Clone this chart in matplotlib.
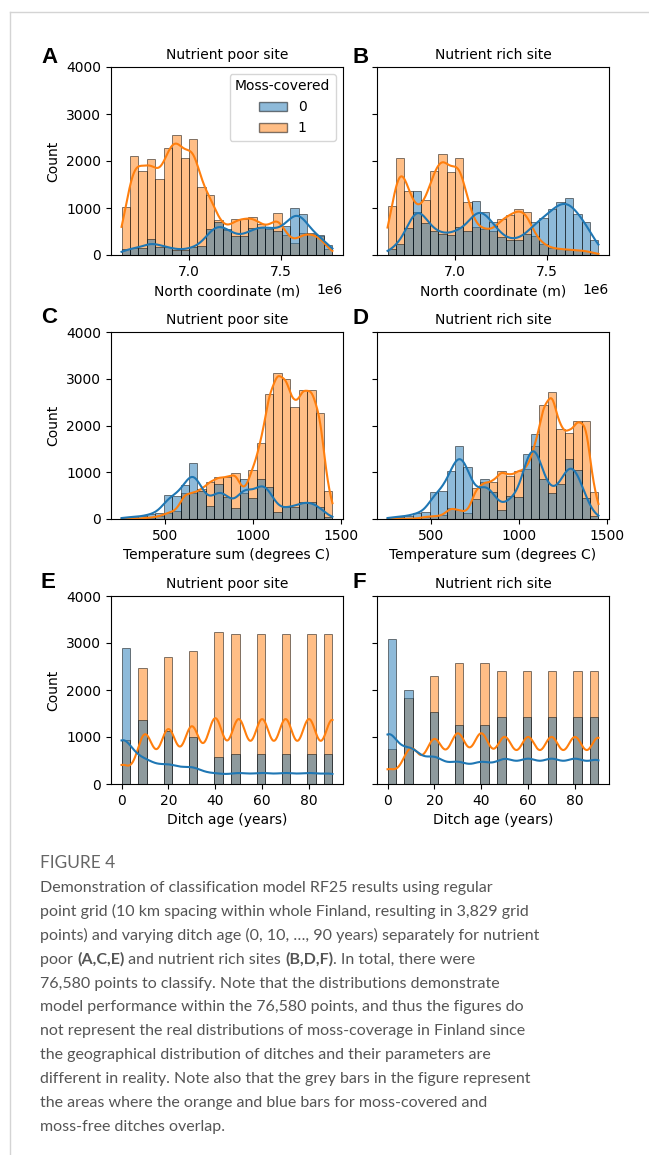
import numpy as np
import matplotlib
matplotlib.use("Agg")
import matplotlib.pyplot as plt
from matplotlib.lines import Line2D
from matplotlib.patches import Patch
from matplotlib.ticker import MultipleLocator

plt.rcParams['font.family'] = ['DejaVu Sans']
plt.rcParams['font.size'] = 10

# ---- data (25 bins per panel, class 0 = moss-free, 1 = moss-covered) ----
north_range = (6.635e6, 7.779e6)
north_poor_0 = [130, 150, 145, 330, 180, 180, 105, 105, 175, 190, 560, 700, 560,
                400, 400, 570, 600, 600, 510, 620, 1000, 870, 460, 420, 220]
north_poor_1 = [1030, 2110, 1790, 2040, 1610, 2270, 2560, 2070, 2460, 1440, 1280, 745, 540,
                760, 760, 815, 660, 560, 900, 420, 260, 470, 440, 400, 130]
north_rich_0 = [130, 230, 580, 1360, 680, 520, 450, 425, 590, 520, 1140, 910, 700,
                380, 320, 320, 440, 710, 780, 970, 1130, 1205, 870, 710, 320]
north_rich_1 = [1040, 2060, 1360, 920, 1160, 1780, 2140, 1760, 2070, 1130, 600, 560, 520,
                760, 850, 970, 910, 400, 230, 140, 130, 110, 100, 90, 40]

temp_range = (250, 1450)
temp_poor_0 = [40, 45, 55, 110, 130, 510, 500, 720, 1200, 600, 285, 748, 477,
               228, 862, 441, 854, 690, 157, 263, 263, 370, 370, 263, 50]
temp_poor_1 = [0, 5, 15, 30, 60, 130, 180, 548, 550, 640, 797, 890, 890,
               990, 548, 1047, 1616, 2684, 3125, 3004, 2399, 2770, 2770, 2271, 598]
temp_rich_0 = [40, 50, 65, 130, 142, 583, 605, 1025, 1566, 1103, 427, 854, 570,
               190, 485, 463, 1400, 1808, 854, 548, 740, 1290, 1050, 444, 65]
temp_rich_1 = [0, 0, 5, 10, 48, 57, 75, 243, 184, 137, 655, 784, 797,
               1028, 925, 1025, 1070, 1566, 2428, 2719, 1922, 1850, 2090, 2090, 583]

ages = [0, 10, 20, 30, 40, 50, 60, 70, 80, 90]
age_poor_0 = [2900, 1365, 1125, 990, 585, 635, 635, 635, 635, 635]
age_poor_1 = [929, 2464, 2704, 2839, 3244, 3194, 3194, 3194, 3194, 3194]
age_rich_0 = [3085, 1995, 1530, 1245, 1245, 1435, 1435, 1435, 1435, 1435]
age_rich_1 = [744, 1834, 2299, 2584, 2584, 2394, 2394, 2394, 2394, 2394]

titles = ["Nutrient poor site", "Nutrient rich site"]
xlabels = ["North coordinate (m)", "Temperature sum (degrees C)", "Ditch age (years)"]
letters = ["A", "B", "C", "D", "E", "F"]
legend_title = "Moss-covered"
caption_head = "FIGURE 4"
caption = [
    [("Demonstration of classification model RF25 results using regular", False)],
    [("point grid (10 km spacing within whole Finland, resulting in 3,829 grid", False)],
    [("points) and varying ditch age (0, 10, \u2026, 90 years) separately for nutrient", False)],
    [("poor ", False), ("(A,C,E)", True), (" and nutrient rich sites ", False),
     ("(B,D,F)", True), (". In total, there were", False)],
    [("76,580 points to classify. Note that the distributions demonstrate", False)],
    [("model performance within the 76,580 points, and thus the figures do", False)],
    [("not represent the real distributions of moss-coverage in Finland since", False)],
    [("the geographical distribution of ditches and their parameters are", False)],
    [("different in reality. Note also that the grey bars in the figure represent", False)],
    [("the areas where the orange and blue bars for moss-covered and", False)],
    [("moss-free ditches overlap.", False)],
]

C0 = '#1f77b4'
C1 = '#ff7f0e'
W, H = 649, 1155

fig = plt.figure(figsize=(W / 100, H / 100), dpi=100)


def px_axes(left, top, right, bottom):
    return fig.add_axes([left / W, 1 - bottom / H, (right - left) / W, (bottom - top) / H])


def kde_curve(points, weights, lo, hi, binwidth):
    pts = np.asarray(points, float)
    w = np.asarray(weights, float)
    n = w.sum()
    mean = np.average(pts, weights=w)
    std = np.sqrt(np.average((pts - mean) ** 2, weights=w))
    bw = std * n ** -0.2  # scott
    grid = np.linspace(lo, hi, 400)
    k = np.exp(-0.5 * ((grid[:, None] - pts[None, :]) / bw) ** 2)
    dens = (k * w[None, :]).sum(1) / (n * bw * np.sqrt(2 * np.pi))
    return grid, dens * n * binwidth


def draw_hist(ax, edges, h0, h1, pts, w0, w1, lo, hi):
    bw = edges[1] - edges[0]
    # orange layer first, blue on top -> overlap turns grey
    ax.bar(edges[:-1], h1, width=np.diff(edges), align='edge', color=C1, alpha=0.5,
           edgecolor='black', linewidth=0.7)
    ax.bar(edges[:-1], h0, width=np.diff(edges), align='edge', color=C0, alpha=0.5,
           edgecolor='black', linewidth=0.7)
    gx, gy = kde_curve(pts, w1, lo, hi, bw)
    ax.plot(gx, gy, color=C1, lw=1.5)
    gx, gy = kde_curve(pts, w0, lo, hi, bw)
    ax.plot(gx, gy, color=C0, lw=1.5)
    ax.set_ylim(0, 4000)
    ax.yaxis.set_major_locator(MultipleLocator(1000))


boxes = [(111, 67, 343, 255), (377, 67, 609, 255),
         (111, 332, 343, 519), (377, 332, 609, 519),
         (111, 596, 343, 784), (377, 596, 609, 784)]
axes = [px_axes(*b) for b in boxes]

# rows 1-2: binned values
row_data = [(north_range, north_poor_0, north_poor_1, north_rich_0, north_rich_1),
            (temp_range, temp_poor_0, temp_poor_1, temp_rich_0, temp_rich_1)]
for r, (rng, p0, p1, q0, q1) in enumerate(row_data):
    edges = np.linspace(rng[0], rng[1], 26)
    centers = (edges[:-1] + edges[1:]) / 2
    draw_hist(axes[2 * r], edges, p0, p1, centers, p0, p1, rng[0], rng[1])
    draw_hist(axes[2 * r + 1], edges, q0, q1, centers, q0, q1, rng[0], rng[1])

# row 3: discrete ditch ages
edges = np.linspace(min(ages), max(ages), 26)
for i, (a0, a1) in enumerate([(age_poor_0, age_poor_1), (age_rich_0, age_rich_1)]):
    h0 = np.histogram(ages, edges, weights=a0)[0]
    h1 = np.histogram(ages, edges, weights=a1)[0]
    draw_hist(axes[4 + i], edges, h0, h1, ages, a0, a1, min(ages), max(ages))

for i, ax in enumerate(axes):
    ax.set_title(titles[i % 2], fontsize=10)
    ax.set_xlabel(xlabels[i // 2], fontsize=10)
    if i % 2 == 0:
        ax.set_ylabel("Count", fontsize=10)
    else:
        ax.set_yticklabels([])
    ax.tick_params(labelsize=10)
    if i < 2:
        ax.xaxis.set_major_locator(MultipleLocator(0.5e6))
    elif i < 4:
        ax.xaxis.set_major_locator(MultipleLocator(500))
    else:
        ax.xaxis.set_major_locator(MultipleLocator(20))

handles = [Patch(facecolor=C0, alpha=0.5, edgecolor='black', label='0'),
           Patch(facecolor=C1, alpha=0.5, edgecolor='black', label='1')]
axes[0].legend(handles=handles, title=legend_title, loc='upper right', fontsize=10,
               title_fontsize=10)

letter_pos = [(41, 63), (352, 63), (41, 323), (352, 324), (40, 588), (352, 588)]
for (x, y), s in zip(letter_pos, letters):
    fig.text(x / W, 1 - y / H, s, fontsize=16, fontweight='bold',
             family=['Liberation Sans', 'DejaVu Sans'], ha='left', va='baseline')

# frame lines of the page
fig.add_artist(Line2D([10 / W, 1], [1 - 12 / H, 1 - 12 / H], color='#d4d4d4', lw=1))
fig.add_artist(Line2D([10 / W, 10 / W], [0, 1 - 12 / H], color='#d4d4d4', lw=1))

# caption
renderer = fig.canvas.get_renderer()
cap_font = ['Lato', 'DejaVu Sans']
grey = '#555555'


def seg_width(s, size, bold):
    t = fig.text(0, 0, s + '|', fontsize=size, family=cap_font,
                 fontweight='bold' if bold else 'normal')
    t2 = fig.text(0, 0, '|', fontsize=size, family=cap_font,
                  fontweight='bold' if bold else 'normal')
    w = t.get_window_extent(renderer).width - t2.get_window_extent(renderer).width
    t.remove()
    t2.remove()
    return w


size = 10 * 487 / seg_width(caption[1][0][0], 10, False)
fig.text(40 / W, 1 - 863 / H, caption_head, fontsize=size * 1.08, family=cap_font,
         color='#666666', va='center', ha='left')
for k, parts in enumerate(caption):
    y = 888 + k * 23.9
    x = 40
    for s, bold in parts:
        fig.text(x / W, 1 - y / H, s, fontsize=size, family=cap_font, color=grey,
                 fontweight='bold' if bold else 'normal', va='center', ha='left')
        x += seg_width(s, size, bold)

fig.savefig("out.png", dpi=100)
